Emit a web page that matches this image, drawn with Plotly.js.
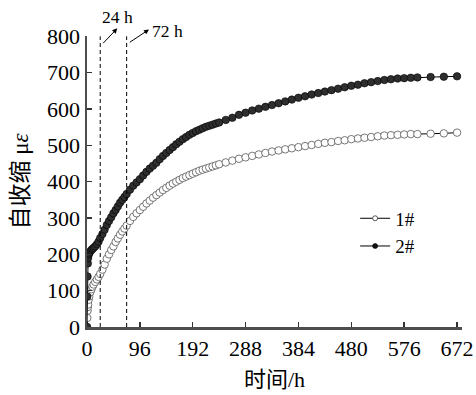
<!DOCTYPE html>
<html>
<head>
<meta charset="utf-8">
<script src="https://cdn.plot.ly/plotly-3.0.1.min.js"></script>
<style>html,body{margin:0;padding:0;background:#fff;}#chart{width:476px;height:395px;}</style>
</head>
<body>
<div id="chart"></div>
<script>
const timeH = [0,0.5,1,1.5,2,3,4,6,8,10,12,15,18,21,24,28,32,36,40,44,48,52,56,60,64,68,72,78,84,90,96,102,108,114,120,126,132,138,144,150,156,162,168,174,180,186,192,198,204,210,216,222,228,234,240,252,264,276,288,300,312,324,336,348,360,372,384,396,408,420,432,444,456,468,480,492,504,516,528,540,552,564,576,588,600,624,648,672];
const s2 = [0,84,139,175,190,199,203,208,212,215,218,222,228,235,245,256,268,281,292,302,313,322,332,342,350,358,366,378,389,398,407,417,427,436,444,452,462,471,479,487,495,503,510,517,523,529,534,539,543,547,551,554,557,560,563,570,576,584,590,596,601,606,611,616,621,626,631,635,640,644,648,652,656,660,664,667,671,674,677,680,682,684,685,686,687,688,689,690];
const s1 = [0,25,45,55,62,75,84,96,104,111,117,124,131,138,146,158,172,188,200,212,222,234,244,254,263,271,279,292,303,313,322,331,340,348,356,363,370,377,383,389,395,400,405,410,414,418,422,426,430,433,436,439,442,445,448,453,458,463,467,471,475,479,483,486,489,492,495,498,501,504,507,509,512,514,517,519,521,523,525,527,528,529,530,531,531,532,533,535];
const seriesNames = ['1#','2#'];
const xTicks = [0,96,192,288,384,480,576,672];
const yTicks = [0,100,200,300,400,500,600,700,800];
const markTimes = [24,72];
const markLabels = ['24 h','72 h'];

const serif = 'Liberation Serif, Times New Roman, serif';
const traces = [
  {x: timeH, y: s1, mode:'lines+markers', showlegend:false,
   line:{color:'#000', width:1},
   marker:{symbol:'circle', size:7.5, color:'#fff', line:{color:'#555', width:0.8}}},
  {x: timeH, y: s2, mode:'lines+markers', showlegend:false,
   line:{color:'#000', width:1},
   marker:{symbol:'circle', size:7.5, color:'#2e2e2e', line:{color:'#000', width:0.6}}},
  {x:[null], y:[null], mode:'lines+markers', name: seriesNames[0],
   line:{color:'#000', width:1}, marker:{size:5, color:'#fff', line:{color:'#333', width:0.8}}},
  {x:[null], y:[null], mode:'lines+markers', name: seriesNames[1],
   line:{color:'#000', width:1}, marker:{size:5, color:'#111', line:{color:'#000', width:0.6}}}
];

const shapes = markTimes.map(t => ({type:'line', xref:'x', yref:'y', x0:t, x1:t, y0:0, y1:800,
  line:{color:'#000', width:1, dash:'4px,3px'}}));

const annotations = [
  {xref:'x', yref:'y', x:55, y:822, axref:'x', ayref:'y', ax:26.7, ay:777, text:'', showarrow:true,
   arrowhead:2, arrowsize:1, arrowwidth:1, arrowcolor:'#000', standoff:0, startstandoff:0},
  {xref:'x', yref:'y', x:112.6, y:819, axref:'x', ayref:'y', ax:75, ay:781, text:'', showarrow:true,
   arrowhead:2, arrowsize:1, arrowwidth:1, arrowcolor:'#000', standoff:0, startstandoff:0},
  {xref:'paper', yref:'paper', x:0.0813, y:1.065, xanchor:'center', yanchor:'middle', text:markLabels[0], showarrow:false,
   font:{family:serif, size:17.5, color:'#000'}},
  {xref:'paper', yref:'paper', x:0.2147, y:1.017, xanchor:'center', yanchor:'middle', text:markLabels[1], showarrow:false,
   font:{family:serif, size:17.5, color:'#000'}}
];

const layout = {
  width:476, height:395,
  margin:{l:87, r:14, t:36, b:68},
  paper_bgcolor:'#fff', plot_bgcolor:'#fff',
  showlegend:true,
  legend:{x:0.715, y:0.325, xanchor:'left', yanchor:'middle', bgcolor:'rgba(0,0,0,0)',
    font:{family:serif, size:19, color:'#000'}, tracegroupgap:0, itemwidth:30},
  xaxis:{range:[0,681], tickvals:xTicks, ticktext:xTicks.map(String), ticks:'inside', ticklen:5,
    tickwidth:1.5, tickcolor:'#333', showline:true, linecolor:'#4d4d4d', linewidth:2.5,
    showgrid:false, zeroline:false, tickfont:{family:serif, size:22, color:'#000'},
    title:{text:'<span style="font-family:Noto Sans CJK SC">时间</span>/h', font:{family:serif, size:22, color:'#000'}, standoff:4}},
  yaxis:{range:[0,801], tickvals:yTicks, ticks:'inside', ticklen:5, tickwidth:1.5, tickcolor:'#333',
    showline:true, linecolor:'#4d4d4d', linewidth:2.5, showgrid:false, zeroline:false,
    tickfont:{family:serif, size:22, color:'#000'},
    title:{text:'<span style="font-family:Noto Sans CJK SC">自收缩</span> μ<i>ε</i>', font:{family:serif, size:23, color:'#000'}, standoff:12}},
  shapes: shapes,
  annotations: annotations
};
Plotly.newPlot('chart', traces, layout, {displayModeBar:false, staticPlot:true});
</script>
</body>
</html>
